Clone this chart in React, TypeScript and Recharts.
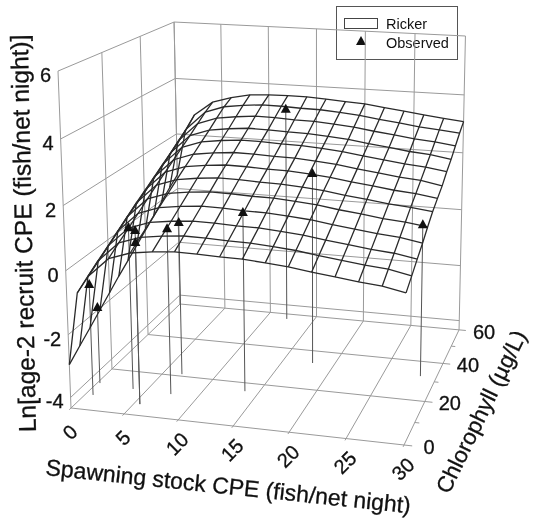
import { ScatterChart, Scatter, XAxis, YAxis } from "recharts";

// grid of the fitted surface
const stockGrid = [0, 1, 2, 4, 6, 8, 10, 12, 14, 16, 18, 20, 22, 24, 26, 28, 30];
const chlGrid = [0, 5, 10, 15, 20, 25, 30, 35, 40, 45, 50, 55, 60];

// ln recruit CPE, one row per chlorophyll value
const surfaceLn = [
  [-2.95, -0.66, -0.13, 0.49, 0.72, 0.81, 0.87, 0.86, 0.83, 0.82, 0.77, 0.71, 0.61, 0.53, 0.44, 0.38, 0.24],
  [-2.65, -0.42, 0.11, 0.73, 0.96, 1.05, 1.11, 1.1, 1.07, 1.06, 1.01, 0.95, 0.85, 0.77, 0.68, 0.62, 0.48],
  [-2.36, -0.19, 0.34, 0.96, 1.19, 1.28, 1.34, 1.33, 1.3, 1.29, 1.24, 1.18, 1.08, 1.0, 0.91, 0.85, 0.73],
  [-2.06, 0.05, 0.58, 1.2, 1.43, 1.52, 1.58, 1.57, 1.54, 1.53, 1.48, 1.42, 1.32, 1.24, 1.15, 1.09, 0.97],
  [-1.76, 0.29, 0.82, 1.44, 1.67, 1.76, 1.82, 1.81, 1.78, 1.77, 1.72, 1.66, 1.56, 1.48, 1.39, 1.33, 1.24],
  [-1.46, 0.53, 1.06, 1.68, 1.91, 2.0, 2.06, 2.05, 2.02, 2.01, 1.96, 1.9, 1.8, 1.72, 1.63, 1.57, 1.49],
  [-1.19, 0.75, 1.28, 1.9, 2.13, 2.22, 2.28, 2.27, 2.24, 2.23, 2.18, 2.12, 2.02, 1.94, 1.85, 1.79, 1.69],
  [-0.91, 0.97, 1.5, 2.12, 2.35, 2.44, 2.5, 2.49, 2.46, 2.45, 2.4, 2.34, 2.24, 2.16, 2.07, 2.01, 1.88],
  [-0.62, 1.2, 1.73, 2.35, 2.58, 2.67, 2.73, 2.72, 2.69, 2.68, 2.63, 2.57, 2.47, 2.39, 2.3, 2.24, 2.14],
  [-0.35, 1.42, 1.95, 2.57, 2.8, 2.89, 2.95, 2.94, 2.91, 2.9, 2.85, 2.79, 2.69, 2.61, 2.52, 2.46, 2.35],
  [-0.05, 1.66, 2.19, 2.81, 3.04, 3.13, 3.19, 3.18, 3.15, 3.14, 3.09, 3.03, 2.93, 2.85, 2.76, 2.7, 2.61],
  [0.24, 1.89, 2.42, 3.04, 3.27, 3.36, 3.42, 3.41, 3.38, 3.37, 3.32, 3.26, 3.16, 3.08, 2.99, 2.93, 2.86],
  [0.5, 2.16, 2.73, 3.23, 3.43, 3.57, 3.61, 3.62, 3.62, 3.58, 3.53, 3.49, 3.4, 3.32, 3.23, 3.15, 3.08],
];

// observed years
const obsStock = [0.73, 0.25, 3.7, 5.55, 5.55, 7.43, 6.8, 13.7, 12.2, 17.9, 28.5];
const obsChl = [6.8, 12.6, 11.5, 5, 5, 11, 21, 16, 56.9, 33.4, 32.2];
const obsLn = [-0.75, -1.82, 0.91, 0.8, 1.17, 1.0, 0.72, 1.45, 3.26, 2.07, 0.72];

const stockTicks = [0, 5, 10, 15, 20, 25, 30];
const chlTicks = [0, 20, 40, 60];
const chlMinor = [10, 30, 50];
const lnTicks = [-4, -2, 0, 2, 4, 6];

const FLOOR = -4.34;
const TOP = 6;
const W = 534;
const H = 522;
const font = "'Liberation Sans', Arial, sans-serif";

// perspective view of the 3d box
function project(stock: number, chl: number, ln: number) {
  const u = stock / 30;
  const v = chl / 60;
  const w = (ln - FLOOR) / (TOP - FLOOR);
  const d = 1 - 0.051 * u + 0.2036 * v - 0.05 * w;
  return {
    sx: (71 + 312.4 * u + 145.7 * v - 15.9 * w) / d,
    sy: (408 + 14.3 * u - 42.1 * v - 340.5 * w) / d,
  };
}

const seg = (a: number[], b: number[]) => [project(a[0], a[1], a[2]), project(b[0], b[1], b[2])];

const gridLines = [
  ...lnTicks.map((z) => seg([0, 0, z], [0, 60, z])),
  ...lnTicks.map((z) => seg([0, 60, z], [30, 60, z])),
  ...chlTicks.map((c) => seg([0, c, FLOOR], [0, c, TOP])),
  ...stockTicks.map((s) => seg([s, 60, FLOOR], [s, 60, TOP])),
  ...chlTicks.map((c) => seg([0, c, FLOOR], [30.7, c, FLOOR])),
  ...chlMinor.map((c) => seg([30, c, FLOOR], [30.4, c, FLOOR])),
  ...stockTicks.map((s) => seg([s, -0.8, FLOOR], [s, 60, FLOOR])),
];

const chlRows = surfaceLn.map((row, i) => row.map((z, j) => project(stockGrid[j], chlGrid[i], z)));
const stockRows = stockGrid.map((s, j) => chlGrid.map((c, i) => project(s, c, surfaceLn[i][j])));

const dropLines = obsStock.map((s, i) => seg([s, obsChl[i], obsLn[i]], [s, obsChl[i], FLOOR]));
const obsPoints = obsStock.map((s, i) => project(s, obsChl[i], obsLn[i]));

const lnLabels = lnTicks.map((z) => {
  const p = project(0, 0, z);
  return { sx: p.sx - 7, sy: p.sy + 11, label: String(z), anchor: "end", rot: 0 };
});
const stockLabels = stockTicks.map((s) => {
  const p = project(s, 0, FLOOR);
  return { sx: p.sx - 1, sy: p.sy + 31, label: String(s), anchor: "middle", rot: -45 };
});
const chlLabels = chlTicks.map((c) => {
  const p = project(30, c, FLOOR);
  return { sx: p.sx + 25, sy: p.sy + 9, label: String(c), anchor: "middle", rot: 0 };
});

const noDot = () => <g />;

const Triangle = (props: any) => (
  <path
    d={`M${props.cx - 5},${props.cy + 4}L${props.cx},${props.cy - 5}L${props.cx + 5},${props.cy + 4}Z`}
    fill="#111"
  />
);

const TickText = (props: any) => {
  const { cx, cy, payload } = props;
  return (
    <text
      x={cx}
      y={cy}
      textAnchor={payload.anchor}
      fontFamily={font}
      fontSize={20}
      fill="#111"
      stroke="#111"
      strokeWidth={0.3}
      transform={payload.rot ? `rotate(${payload.rot} ${cx} ${cy - 7})` : undefined}
    >
      {payload.label}
    </text>
  );
};

export default function App() {
  return (
    <div style={{ position: "absolute", left: 0, top: 0, width: W, height: H, background: "#fff", filter: "blur(0.35px)" }}>
      <ScatterChart width={W} height={H} margin={{ top: 0, right: 0, bottom: 0, left: 0 }}>
        <XAxis type="number" dataKey="sx" domain={[0, W]} hide />
        <YAxis type="number" dataKey="sy" domain={[0, H]} reversed hide />

        {gridLines.map((d, i) => (
          <Scatter key={`g${i}`} data={d} line={{ stroke: "#9a9a9a", strokeWidth: 1 }} shape={noDot} isAnimationActive={false} />
        ))}
        {dropLines.map((d, i) => (
          <Scatter key={`d${i}`} data={d} line={{ stroke: "#555", strokeWidth: 1 }} shape={noDot} isAnimationActive={false} />
        ))}
        {chlRows.map((d, i) => (
          <Scatter key={`c${i}`} data={d} line={{ stroke: "#2a2a2a", strokeWidth: 1.3 }} shape={noDot} isAnimationActive={false} />
        ))}
        {stockRows.map((d, i) => (
          <Scatter key={`s${i}`} data={d} line={{ stroke: "#2a2a2a", strokeWidth: 1.3 }} shape={noDot} isAnimationActive={false} />
        ))}
        <Scatter data={obsPoints} shape={Triangle} isAnimationActive={false} />
        <Scatter data={[...lnLabels, ...stockLabels, ...chlLabels]} shape={TickText} isAnimationActive={false} />

        <text transform="translate(36 432) rotate(-91.2)" fontFamily={font} fontSize={24.5} fill="#111" stroke="#111" strokeWidth={0.3}>
          Ln[age-2 recruit CPE  (fish/net night)]
        </text>
        <text transform="translate(45 475) rotate(6)" fontFamily={font} fontSize={23} fill="#111" stroke="#111" strokeWidth={0.3}>
          Spawning stock CPE (fish/net night)
        </text>
        <text transform="translate(449 495) rotate(-64)" fontFamily={font} fontSize={22.5} fill="#111" stroke="#111" strokeWidth={0.3}>
          Chlorophyll (µg/L)
        </text>

        <g>
          <rect x={336.5} y={6.5} width={121} height={53} fill="#fff" stroke="#555" />
          <rect x={344.5} y={18.5} width={33} height={10} fill="#fff" stroke="#444" />
          <path d="M356,45L361,36L366,45Z" fill="#111" />
          <text x={386} y={29} fontFamily={font} fontSize={14.5} fill="#111">Ricker</text>
          <text x={386} y={48} fontFamily={font} fontSize={14.5} fill="#111">Observed</text>
        </g>
      </ScatterChart>
    </div>
  );
}
